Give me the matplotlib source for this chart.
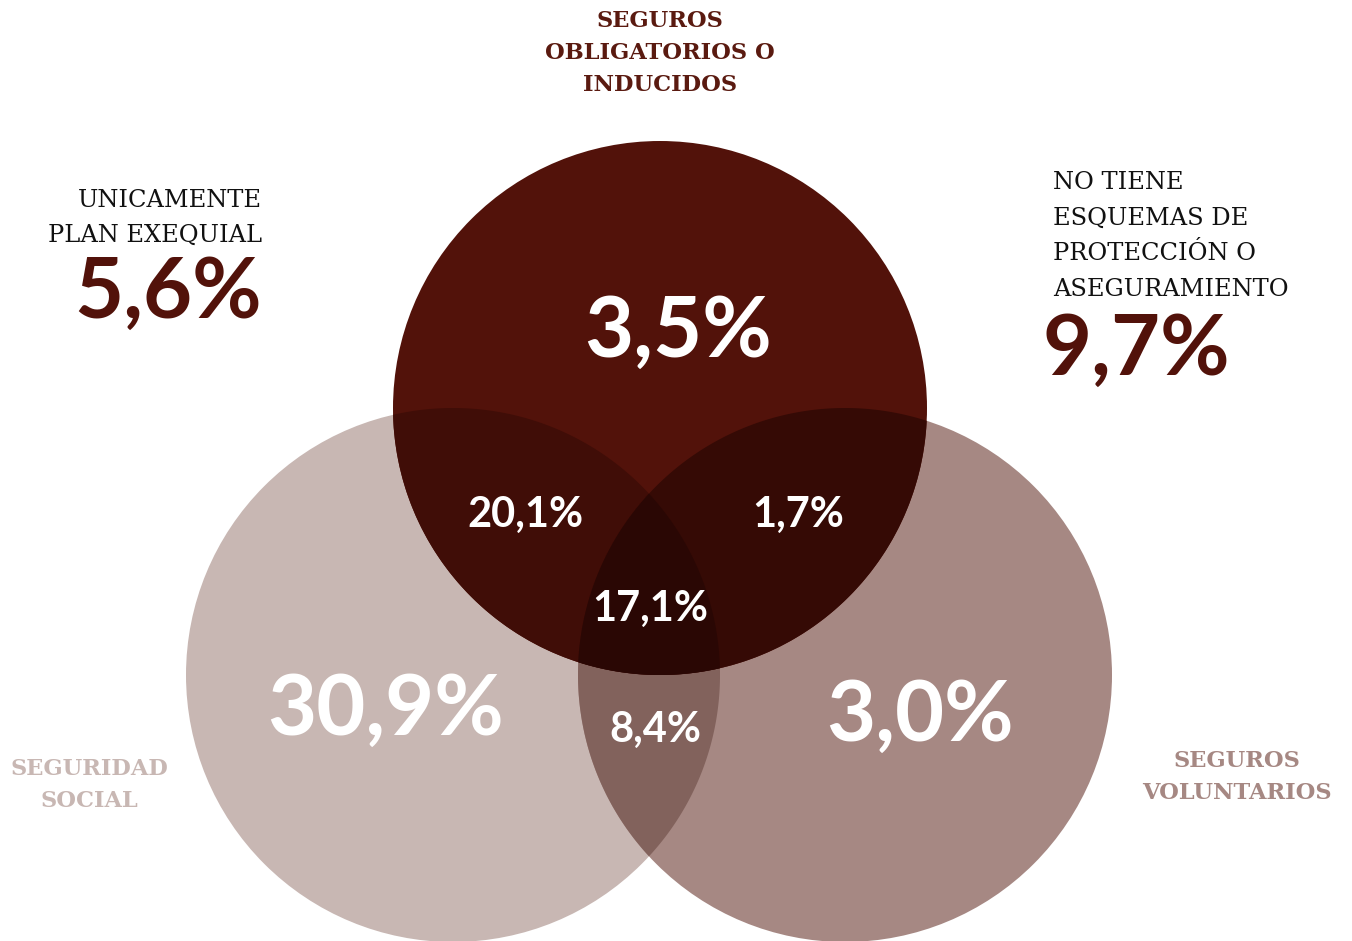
import matplotlib
matplotlib.use("Agg")
import matplotlib.pyplot as plt
import numpy as np
from matplotlib.patches import Circle, Polygon

# three sets of the Venn diagram
set_names = ["SEGUROS\nOBLIGATORIOS O\nINDUCIDOS", "SEGURIDAD\nSOCIAL", "SEGUROS\nVOLUNTARIOS"]
set_colors = ["#52120A", "#C8B7B3", "#A68883"]

# share of households in each region (%)
only_top = 3.5
only_left = 30.9
only_right = 3.0
top_left = 20.1
top_right = 1.7
left_right = 8.4
all_three = 17.1

# outside the circles
only_funeral = 5.6
no_protection = 9.7

W, H = 1352, 941
R = 267
centers = [(660, 408), (453, 675), (845, 675)]


def fmt(v):
    return f"{v:.1f}".replace(".", ",") + "%"


def to_rgb(c):
    return np.array(matplotlib.colors.to_rgb(c))


def multiply(idx):
    out = np.ones(3)
    for i in idx:
        out *= to_rgb(set_colors[i])
    return out


def intersection(idx, n=1500):
    # polygon of the area shared by all circles in idx
    t = np.linspace(0, 2 * np.pi, n, endpoint=False)
    pts = []
    for i in idx:
        cx, cy = centers[i]
        p = np.column_stack([cx + R * np.cos(t), cy + R * np.sin(t)])
        inside = np.ones(n, bool)
        for j in idx:
            if j == i:
                continue
            ox, oy = centers[j]
            inside &= (p[:, 0] - ox) ** 2 + (p[:, 1] - oy) ** 2 <= R ** 2 + 1e-6
        pts.append(p[inside])
    pts = np.vstack(pts)
    m = pts.mean(axis=0)
    order = np.argsort(np.arctan2(pts[:, 1] - m[1], pts[:, 0] - m[0]))
    return pts[order]


fig = plt.figure(figsize=(W / 100, H / 100), dpi=100)
ax = fig.add_axes([0, 0, 1, 1])
ax.set_xlim(0, W)
ax.set_ylim(H, 0)
ax.set_aspect("equal")
ax.axis("off")

# base circles, then every overlap filled with the multiplied colour
for i in [1, 2, 0]:
    ax.add_patch(Circle(centers[i], R, facecolor=set_colors[i], edgecolor="none"))
for idx in [(1, 2), (0, 1), (0, 2), (0, 1, 2)]:
    ax.add_patch(Polygon(intersection(idx), closed=True, facecolor=multiply(idx),
                         edgecolor="none", antialiased=True))

num_font = dict(family="Lato", fontweight="bold", color="white", ha="center", va="center")
ax.text(678, 332, fmt(only_top), fontsize=61, **num_font)
ax.text(386, 710, fmt(only_left), fontsize=61, **num_font)
ax.text(920, 716, fmt(only_right), fontsize=61, **num_font)
ax.text(525, 515, fmt(top_left), fontsize=30, **num_font)
ax.text(798, 515, fmt(top_right), fontsize=30, **num_font)
ax.text(650, 609, fmt(all_three), fontsize=30, **num_font)
ax.text(655, 730, fmt(left_right), fontsize=30, **num_font)

lab_font = dict(family="DejaVu Serif", fontweight="bold", ha="center", va="center",
                linespacing=1.58, fontsize=16.2)
ax.text(660, 53, set_names[0], color="#5A1A10", **lab_font)
ax.text(89, 785, set_names[1], color=set_colors[1], **lab_font)
ax.text(1237, 777, set_names[2], color=set_colors[2], **lab_font)

side_font = dict(family="DejaVu Serif", color="#111111", fontsize=17.4, linespacing=1.7)
ax.text(262, 218, "UNICAMENTE\nPLAN EXEQUIAL", ha="right", va="center", **side_font)
ax.text(262, 293, fmt(only_funeral), ha="right", va="center", family="Lato",
        fontweight="bold", fontsize=61, color="#52120A")
ax.text(1053, 236, "NO TIENE\nESQUEMAS DE\nPROTECCIÓN O\nASEGURAMIENTO", ha="left",
        va="center", **side_font)
ax.text(1043, 350, fmt(no_protection), ha="left", va="center", family="Lato",
        fontweight="bold", fontsize=61, color="#52120A")

fig.savefig("out.png", dpi=100, facecolor="white")
